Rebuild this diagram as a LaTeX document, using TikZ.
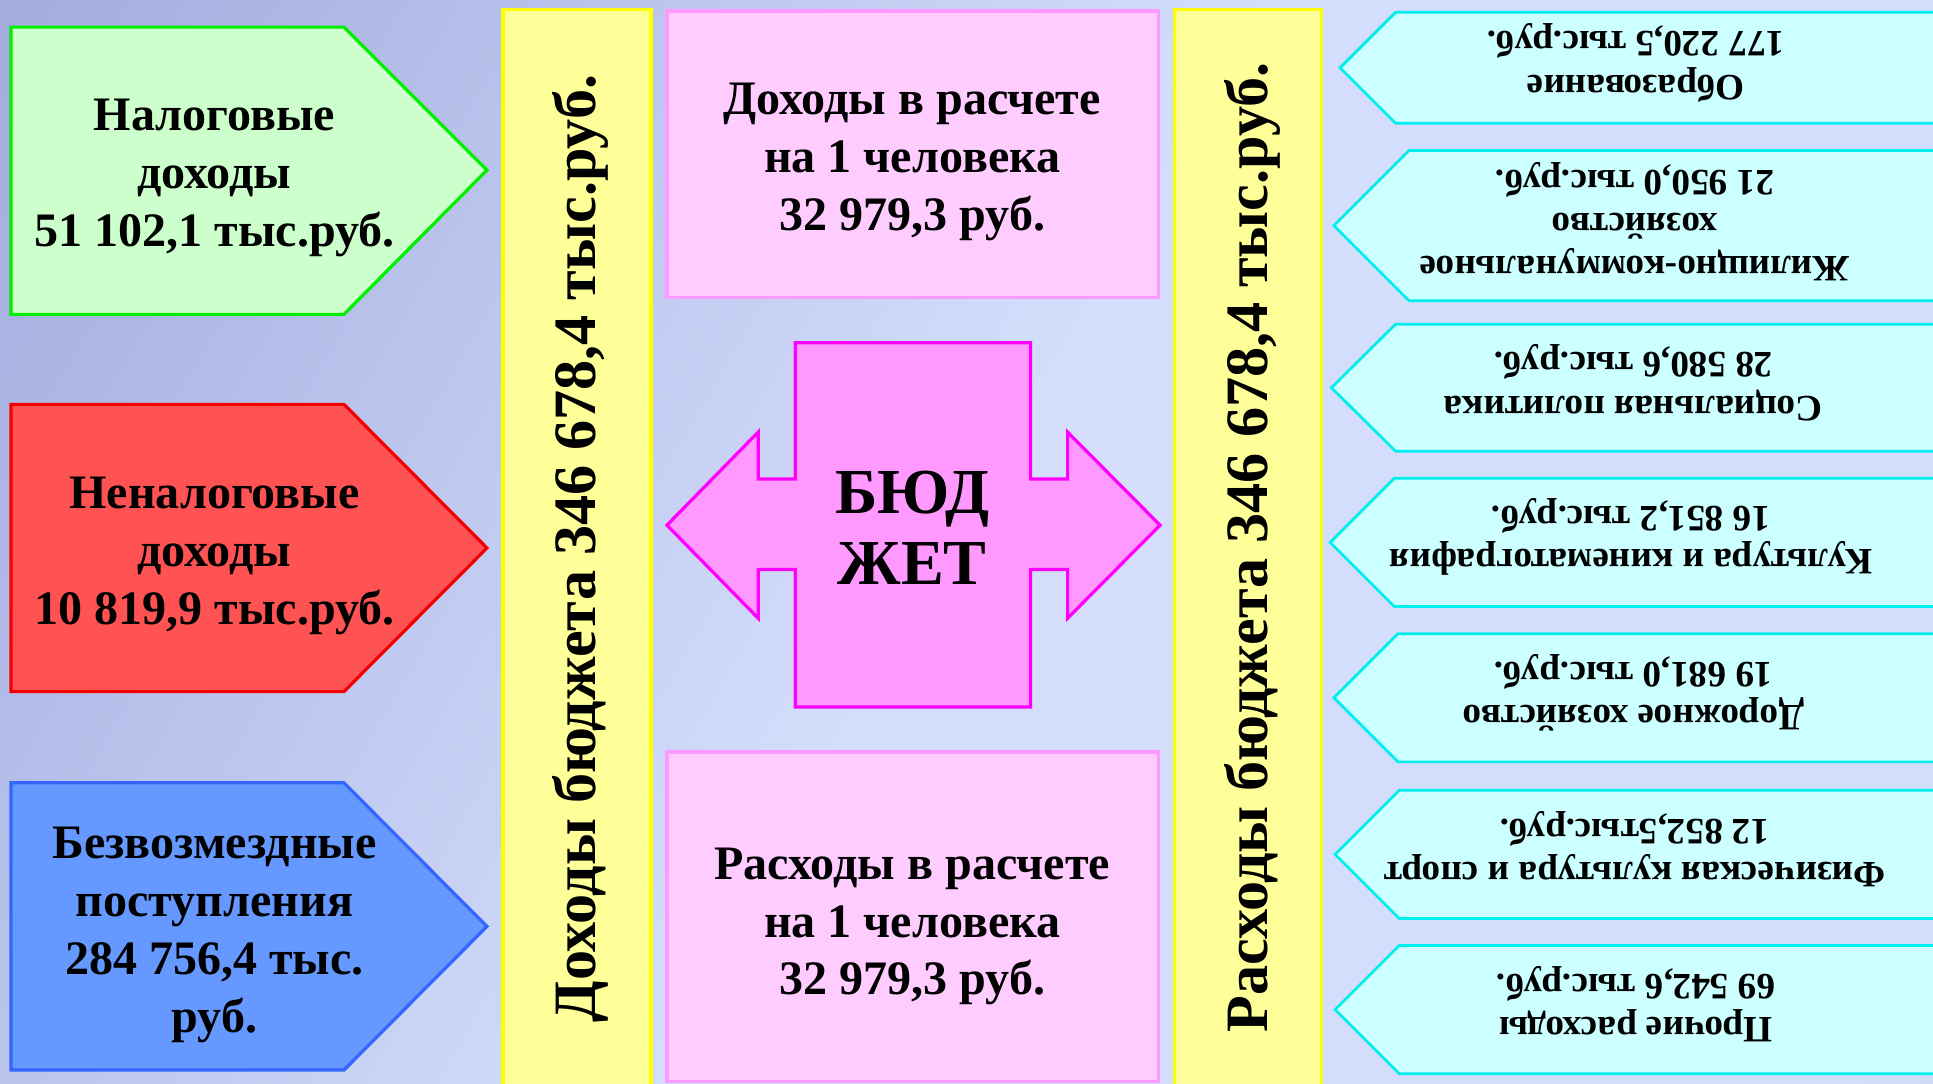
\documentclass[tikz,border=0pt]{standalone}
\usepackage{fontspec}
\setmainfont{Liberation Serif}
\definecolor{bgA}{RGB}{140,148,206}
\definecolor{bgB}{RGB}{212,222,252}
\definecolor{bgC}{RGB}{186,195,212}
\definecolor{grF}{RGB}{204,255,204}
\definecolor{grD}{RGB}{0,240,0}
\definecolor{rdF}{RGB}{255,82,82}
\definecolor{rdD}{RGB}{245,0,0}
\definecolor{blF}{RGB}{102,153,255}
\definecolor{blD}{RGB}{51,102,255}
\definecolor{ylF}{RGB}{255,255,153}
\definecolor{ylD}{RGB}{255,255,0}
\definecolor{pkF}{RGB}{255,204,255}
\definecolor{pkD}{RGB}{255,153,255}
\definecolor{mgF}{RGB}{255,153,255}
\definecolor{mgD}{RGB}{255,0,255}
\definecolor{cyF}{RGB}{204,255,255}
\definecolor{cyD}{RGB}{0,238,238}
\pgfdeclarehorizontalshading{bgshade}{100bp}{color(0bp)=(bgA); color(50bp)=(bgB); color(82bp)=(bgB); color(100bp)=(bgC)}
\tikzset{
  bigtxt/.style={font=\bfseries\fontsize{39}{47}\selectfont, align=center, text=black, inner sep=0pt},
  vtxt/.style={font=\bfseries\fontsize{48.8}{56}\selectfont, rotate=90, text=black, inner sep=0pt},
  smalltxt/.style={font=\bfseries\fontsize{30.2}{35}\selectfont, align=center, text=black, rotate=180, inner sep=0pt},
  budtxt/.style={font=\bfseries\fontsize{52}{58}\selectfont, align=center, text=black, inner sep=0pt},
  shp/.style={line width=2.6pt, line join=miter},
  cyshape/.style={line width=2.2pt, fill=cyF, draw=cyD},
}
\begin{document}
\begin{tikzpicture}[x=1pt,y=-1pt]
\useasboundingbox (0,0) rectangle (1568,879);
\shade[shading=bgshade, shading angle=-30] (-2,-2) rectangle (1570,881);

% left income pentagons
\draw[shp, fill=grF, draw=grD] (9,22) -- (279,22) -- (395,138) -- (279,255) -- (9,255) -- cycle;
\node[bigtxt] (tax) at (174,144) {Налоговые\\доходы\\51 102,1 тыс.руб.};
\draw[shp, fill=rdF, draw=rdD] (9,328) -- (279,328) -- (395,444.5) -- (279,561) -- (9,561) -- cycle;
\node[bigtxt] (nontax) at (174,451) {Неналоговые\\доходы\\10 819,9 тыс.руб.};
\draw[shp, fill=blF, draw=blD] (9,635) -- (279,635) -- (395,751.5) -- (279,868) -- (9,868) -- cycle;
\node[bigtxt] (free) at (174,758.5) {Безвозмездные\\поступления\\284 756,4 тыс.\\руб.};

% yellow bars
\draw[shp, fill=ylF, draw=ylD] (408,8) rectangle (528,890);
\node[vtxt] (inc) at (471,445) {Доходы бюджета 346 678,4 тыс.руб.};
\draw[shp, fill=ylF, draw=ylD] (953,8) rectangle (1072,890);
\node[vtxt] (exp) at (1016,444) {Расходы бюджета 346 678,4 тыс.руб.};

% pink boxes
\draw[shp, fill=pkF, draw=pkD] (541,9) rectangle (940,241.5);
\node[bigtxt] (incpc) at (740,131.5) {Доходы в расчете\\на 1 человека\\32 979,3 руб.};
\draw[shp, fill=pkF, draw=pkD] (541,610) rectangle (940,877);
\node[bigtxt] (exppc) at (740,751.5) {Расходы в расчете\\на 1 человека\\32 979,3 руб.};

% central double arrow
\draw[shp, fill=mgF, draw=mgD]
  (541,426) -- (615,350.5) -- (615,388.5) -- (645,388.5) -- (645,278) -- (836,278)
  -- (836,388.5) -- (866,388.5) -- (866,350.5) -- (941,426) -- (866,501.5)
  -- (866,462) -- (836,462) -- (836,573.5) -- (645,573.5) -- (645,462)
  -- (615,462) -- (615,501.5) -- cycle;
\node[budtxt] (bud) at (740,428) {БЮД\\ЖЕТ};

% right expenditure arrows
\draw[cyshape] (1600,10) -- (1132,10) -- (1087,55) -- (1132,100) -- (1600,100) -- cycle;
\node[smalltxt] (e1) at (1327,51) {Образование\\177 220,5 тыс.руб.};
\draw[cyshape] (1600,122) -- (1143,122) -- (1082,183) -- (1143,244) -- (1600,244) -- cycle;
\node[smalltxt] (e2) at (1326,180) {Жилищно-коммунальное\\хозяйство\\21 950,0 тыс.руб.};
\draw[cyshape] (1600,263) -- (1132,263) -- (1080,314.5) -- (1132,366) -- (1600,366) -- cycle;
\node[smalltxt] (e3) at (1325,310.5) {Социальная политика\\28 580,6 тыс.руб.};
\draw[cyshape] (1600,388) -- (1131,388) -- (1079,440) -- (1131,492) -- (1600,492) -- cycle;
\node[smalltxt] (e4) at (1323,435.5) {Культура и кинематография\\16 851,2 тыс.руб.};
\draw[cyshape] (1600,514) -- (1134,514) -- (1082,566) -- (1134,618) -- (1600,618) -- cycle;
\node[smalltxt] (e5) at (1325,562) {Дорожное хозяйство\\19 681,0 тыс.руб.};
\draw[cyshape] (1600,641) -- (1135,641) -- (1083,693) -- (1135,745) -- (1600,745) -- cycle;
\node[smalltxt] (e6) at (1326,688.5) {Физическая культура и спорт\\12 852,5тыс.руб.};
\draw[cyshape] (1600,767) -- (1135,767) -- (1083,819) -- (1135,871) -- (1600,871) -- cycle;
\node[smalltxt] (e7) at (1327,814.5) {Прочие расходы\\69 542,6 тыс.руб.};
\end{tikzpicture}
\end{document}
